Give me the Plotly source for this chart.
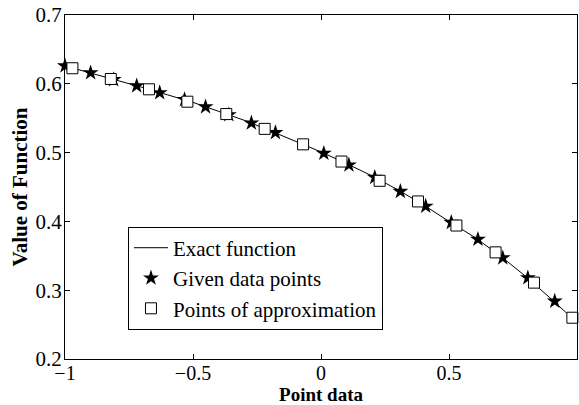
import plotly.graph_objects as go

# Exact function samples
exact_x = [-1.0, -0.9, -0.8, -0.7, -0.6, -0.5, -0.4, -0.3, -0.2, -0.1, 0.0,
           0.1, 0.2, 0.3, 0.4, 0.5, 0.6, 0.7, 0.8, 0.9, 1.0]
exact_y = [0.626, 0.616, 0.605, 0.595, 0.584, 0.573, 0.560, 0.547, 0.532, 0.517, 0.501,
           0.484, 0.466, 0.446, 0.424, 0.400, 0.377, 0.350, 0.320, 0.287, 0.253]

# Given data points (stars)
given_x = [-1.0, -0.90, -0.81, -0.72, -0.63, -0.533, -0.451, -0.36, -0.272, -0.178,
           0.011, 0.109, 0.210, 0.310, 0.409, 0.509, 0.613, 0.710, 0.808, 0.913]
given_y = [0.626, 0.616, 0.606, 0.597, 0.587, 0.577, 0.5665, 0.555, 0.543, 0.529,
           0.499, 0.482, 0.464, 0.4435, 0.422, 0.3985, 0.374, 0.347, 0.318, 0.284]

# Points of approximation (squares)
approx_x = [-0.971, -0.821, -0.672, -0.522, -0.370, -0.220, -0.070,
            0.080, 0.229, 0.379, 0.529, 0.682, 0.832, 0.982]
approx_y = [0.6226, 0.607, 0.592, 0.574, 0.556, 0.5345, 0.512,
            0.487, 0.459, 0.429, 0.394, 0.355, 0.311, 0.260]

FONT = "Liberation Serif, Times New Roman, serif"

fig = go.Figure()
fig.add_trace(go.Scatter(x=exact_x, y=exact_y, mode="lines", name="Exact function",
                         line=dict(color="black", width=1)))
fig.add_trace(go.Scatter(x=given_x, y=given_y, mode="markers", name="Given data points",
                         cliponaxis=False,
                         marker=dict(symbol="star", size=12, color="black",
                                     line=dict(width=0))))
fig.add_trace(go.Scatter(x=approx_x, y=approx_y, mode="markers", name="Points of approximation",
                         cliponaxis=False,
                         marker=dict(symbol="square", size=11, color="white",
                                     line=dict(color="black", width=1))))

axis_common = dict(showline=True, linecolor="black", linewidth=1, mirror="allticks",
                   ticks="inside", ticklen=5, tickcolor="black", showgrid=False,
                   zeroline=False)

fig.update_layout(
    width=579, height=405,
    margin=dict(l=65, r=2, t=15, b=46, autoexpand=False),
    paper_bgcolor="white", plot_bgcolor="white",
    font=dict(family=FONT, color="black"),
    xaxis=dict(range=[-1, 1], tickvals=[-1, -0.5, 0, 0.5, 1],
               ticktext=["\u22121", "\u22120.5", "0", "0.5", "1"],
               ticklabelstandoff=-4,
               tickfont=dict(family=FONT, size=20, color="black"),
               title=dict(text="<b>Point data</b>", font=dict(family=FONT, size=19), standoff=6),
               **axis_common),
    yaxis=dict(range=[0.2, 0.7], tickvals=[0.2, 0.3, 0.4, 0.5, 0.6, 0.7],
               ticktext=["0.2", "0.3", "0.4", "0.5", "0.6", "0.7"],
               ticklabelstandoff=-2,
               tickfont=dict(family=FONT, size=21, color="black"),
               title=dict(text="<b>Value of Function</b>", font=dict(family=FONT, size=21), standoff=2),
               **axis_common),
    legend=dict(x=0.123, y=0.385, xanchor="left", yanchor="top",
                bordercolor="black", borderwidth=1, bgcolor="white",
                font=dict(family=FONT, size=21, color="black"),
                itemwidth=34, tracegroupgap=0),
    showlegend=True,
)

fig.write_html("out.html")
